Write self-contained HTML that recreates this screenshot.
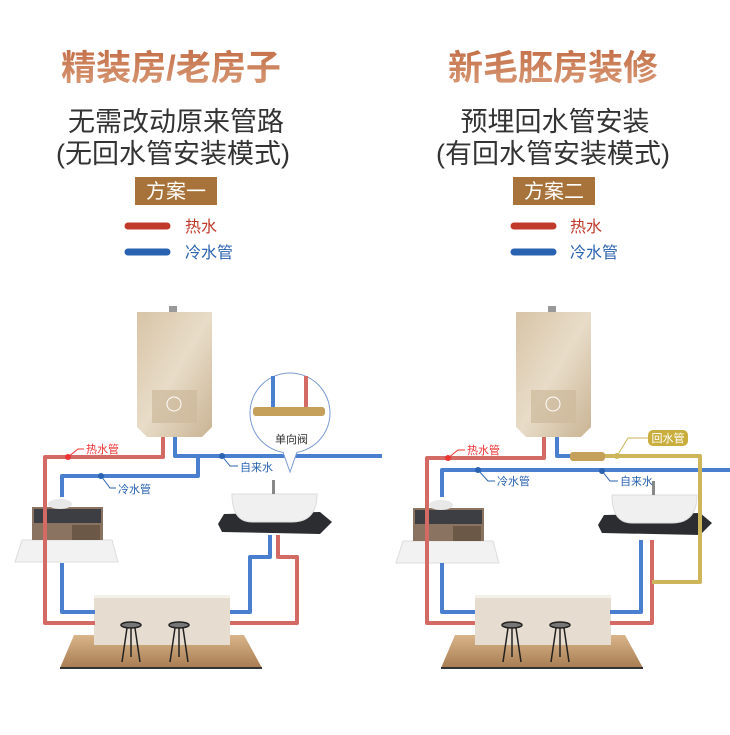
<!DOCTYPE html>
<html><head><meta charset="utf-8"><style>
body{margin:0;width:730px;height:730px;background:#fff;overflow:hidden;font-family:"Liberation Sans","Noto Sans CJK SC",sans-serif}
</style></head><body>
<svg width="730" height="730" viewBox="0 0 730 730" xmlns="http://www.w3.org/2000/svg" font-family="Liberation Sans, Noto Sans CJK SC, sans-serif">
<defs>
<linearGradient id="tg" x1="0" y1="0" x2="0" y2="1"><stop offset="0" stop-color="#c4704a"/><stop offset="1" stop-color="#d89a76"/></linearGradient>
<linearGradient id="hg" x1="0" y1="0" x2="1" y2="1"><stop offset="0" stop-color="#d8c4a6"/><stop offset="0.5" stop-color="#e8dcc8"/><stop offset="1" stop-color="#c9b393"/></linearGradient>
<linearGradient id="wood" x1="0" y1="0" x2="0" y2="1"><stop offset="0" stop-color="#d9b58a"/><stop offset="1" stop-color="#a87c52"/></linearGradient>
<g id="heater">
<rect x="32" y="-6" width="8" height="7" fill="#999"/>
<path d="M0 0 H75 V115 L65 125 H10 L0 115 Z" fill="url(#hg)"/>
<rect x="15" y="78" width="45" height="33" fill="#cdb99b" opacity="0.7"/>
<circle cx="37" cy="92" r="7" fill="none" stroke="#fff" stroke-width="1"/>
</g>
<g id="island">
<path d="M-20 38 H150 L168 71 H-34 Z" fill="url(#wood)"/>
<rect x="-34" y="70" width="202" height="2" fill="#333"/>
<rect x="0" y="0" width="136" height="48" fill="#e6ddd0"/>
<rect x="0" y="-2" width="136" height="3" fill="#f4f0ea"/>
<g stroke="#222" stroke-width="1.5" fill="none"><ellipse cx="37" cy="28" rx="10" ry="3" fill="#777"/><path d="M33 31 L28 65 M41 31 L46 65 M37 31 V60"/><ellipse cx="85" cy="28" rx="10" ry="3" fill="#777"/><path d="M81 31 L76 65 M89 31 L94 65 M85 31 V60"/></g>
</g>
<g id="cab">
<path d="M-10 33 H80 L86 55 H-17 Z" fill="#f2f2f2" stroke="#ddd"/>
<rect x="0" y="0" width="71" height="33" fill="#8a7360"/>
<rect x="2" y="2" width="67" height="14" fill="#3c3e44"/>
<rect x="40" y="18" width="28" height="15" fill="#6c5846"/>
<ellipse cx="28" cy="-3" rx="12" ry="5" fill="#e8e8e8"/>
</g>
<g id="bath">
<path d="M-8 20 L88 18 L100 28 L88 40 L-10 38 L-14 30 Z" fill="#2b2d30"/>
<path d="M0 0 H85 Q85 28 60 28 H20 Q0 28 0 0 Z" fill="#f0f0f0" stroke="#ddd"/>
<rect x="40" y="-14" width="3" height="14" fill="#888"/>
</g>
</defs>

<text x="171" y="80" font-size="35" font-weight="bold" fill="url(#tg)" text-anchor="middle">精装房/老房子</text>
<text x="553" y="80" font-size="35" font-weight="bold" fill="url(#tg)" text-anchor="middle">新毛胚房装修</text>
<text x="176" y="131" font-size="27" fill="#333" text-anchor="middle">无需改动原来管路</text>
<text x="173" y="163" font-size="27" fill="#333" text-anchor="middle">(无回水管安装模式)</text>
<text x="555" y="131" font-size="27" fill="#333" text-anchor="middle">预埋回水管安装</text>
<text x="553" y="163" font-size="27" fill="#333" text-anchor="middle">(有回水管安装模式)</text>
<rect x="135" y="177" width="82" height="28" fill="#a8733a"/>
<text x="176" y="198" font-size="20" fill="#fff" text-anchor="middle">方案一</text>
<rect x="513" y="177" width="82" height="28" fill="#a8733a"/>
<text x="554" y="198" font-size="20" fill="#fff" text-anchor="middle">方案二</text>
<g stroke-linecap="round" stroke-width="7">
<line x1="128" y1="226" x2="167" y2="226" stroke="#c0392b"/><line x1="128" y1="252" x2="167" y2="252" stroke="#2962b0"/>
<line x1="514" y1="226" x2="553" y2="226" stroke="#c0392b"/><line x1="514" y1="252" x2="553" y2="252" stroke="#2962b0"/>
</g>
<text x="185" y="232" font-size="16" fill="#c0392b">热水</text>
<text x="185" y="258" font-size="16" fill="#2962b0">冷水管</text>
<text x="570" y="232" font-size="16" fill="#c0392b">热水</text>
<text x="570" y="258" font-size="16" fill="#2962b0">冷水管</text>

<use href="#heater" x="137" y="312"/>
<use href="#cab" x="32" y="507"/>
<use href="#bath" x="232" y="494"/>
<use href="#island" x="94" y="597"/>
<g fill="none" stroke-width="4" stroke-linejoin="round">
<path d="M163 437 V457 H45 V623 H95 M230 623 H297 V557 H278 V535" stroke="#d36a63"/>
<path d="M175 437 V456 H380 M198 456 V476 H62 V497 M62 563 V612 H95 M230 612 H250 V557 H270 V535" stroke="#4a7fd0"/>
</g>
<circle cx="290" cy="413" r="40" fill="#fff" stroke="#7c9bd0" stroke-width="1"/>
<path d="M283 452 L290 472 L297 452" fill="#fff" stroke="#7c9bd0" stroke-width="1"/>
<line x1="273" y1="376" x2="273" y2="410" stroke="#4a7fd0" stroke-width="4"/>
<line x1="306" y1="376" x2="306" y2="410" stroke="#d36a63" stroke-width="4"/>
<rect x="253" y="407" width="72" height="9" rx="3" fill="#c5a05a"/>
<text x="275" y="443" font-size="11" fill="#333">单向阀</text>
<circle cx="68" cy="457" r="3" fill="#e33"/><path d="M68 457 L78 449 H84" stroke="#e33" fill="none"/>
<text x="86" y="453" font-size="11" fill="#e33">热水管</text>
<circle cx="101" cy="476" r="3" fill="#2962b0"/><path d="M101 476 L110 488 H116" stroke="#2962b0" fill="none"/>
<text x="118" y="493" font-size="11" fill="#2962b0">冷水管</text>
<circle cx="222" cy="456" r="3" fill="#2962b0"/><path d="M222 456 L230 466 H238" stroke="#2962b0" fill="none"/>
<text x="240" y="471" font-size="11" fill="#2962b0">自来水</text>

<use href="#heater" x="516" y="312"/>
<use href="#cab" x="413" y="508"/>
<use href="#bath" x="612" y="495"/>
<use href="#island" x="475" y="597"/>
<g fill="none" stroke-width="4" stroke-linejoin="round">
<path d="M544 437 V458 H427 V623 H475 M610 623 H652 V540" stroke="#d36a63"/>
<path d="M557 437 V456 H575 M365 456 H382 M442 497 V470 H730 M442 563 V612 H475 M610 612 H641 V540" stroke="#4a7fd0"/>
<path d="M600 456 H700 V582 H652" stroke="#cdb55a"/>
</g>
<rect x="570" y="452" width="35" height="9" rx="3" fill="#c5a05a"/>
<circle cx="448" cy="458" r="3" fill="#e33"/><path d="M448 458 L458 450 H465" stroke="#e33" fill="none"/>
<text x="467" y="454" font-size="11" fill="#e33">热水管</text>
<circle cx="478" cy="470" r="3" fill="#2962b0"/><path d="M478 470 L488 481 H495" stroke="#2962b0" fill="none"/>
<text x="497" y="485" font-size="11" fill="#2962b0">冷水管</text>
<circle cx="602" cy="471" r="3" fill="#2962b0"/><path d="M602 471 L610 481 H618" stroke="#2962b0" fill="none"/>
<text x="620" y="485" font-size="11" fill="#2962b0">自来水</text>
<circle cx="617" cy="456" r="3" fill="#cdb55a"/><path d="M617 456 L628 438 H648" stroke="#cdb55a" fill="none"/>
<rect x="648" y="430" width="40" height="16" rx="5" fill="#c9ae3e"/>
<text x="668" y="442" font-size="11" fill="#fff" text-anchor="middle">回水管</text>
</svg>
</body></html>
